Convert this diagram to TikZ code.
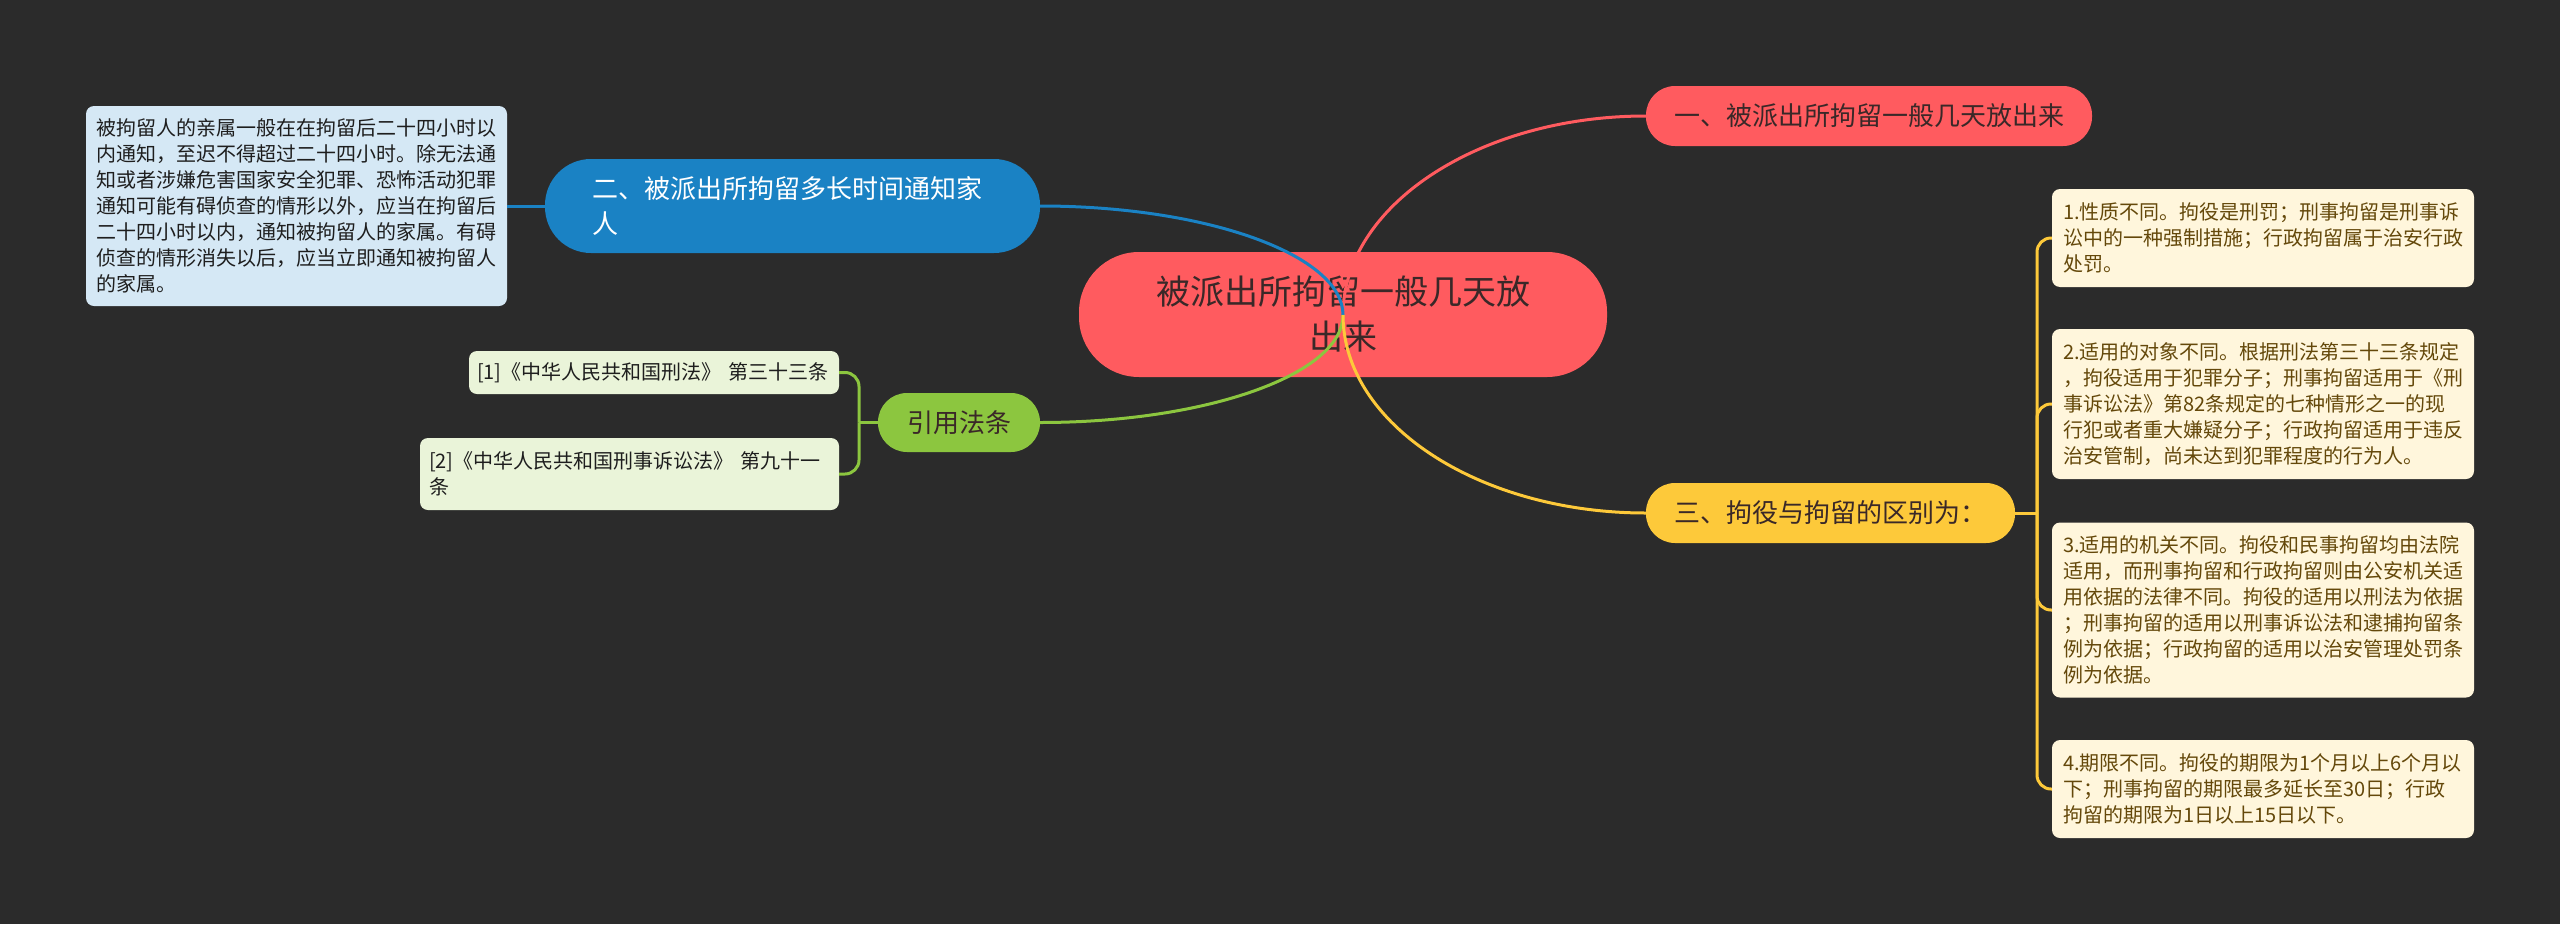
\documentclass[tikz,border=0pt]{standalone}
\usepackage{fontspec}
\setmainfont{Noto Sans CJK SC}
\usetikzlibrary{calc}
\definecolor{bg}{RGB}{43,43,43}
\definecolor{cred}{RGB}{255,91,95}
\definecolor{cblue}{RGB}{26,130,196}
\definecolor{cgreen}{RGB}{140,198,63}
\definecolor{cyellow}{RGB}{253,201,58}
\definecolor{darktext}{RGB}{58,40,40}
\definecolor{noteblue}{RGB}{213,232,245}
\definecolor{notegreen}{RGB}{234,244,217}
\definecolor{noteyellow}{RGB}{255,246,220}
\definecolor{brown}{RGB}{100,72,10}
\definecolor{ink}{RGB}{30,30,30}
\tikzset{
  pill/.style={inner sep=0pt, font=\fontsize{26}{35}\selectfont},
  notebox/.style={inner sep=0pt, rounded corners=8pt, align=left, font=\fontsize{20}{26}\selectfont},
  cn/.style={line width=3pt},
}
\begin{document}
\begin{tikzpicture}[x=1pt,y=-1pt]
\fill[bg] (0,0) rectangle (2560,924);
\useasboundingbox (0,0) rectangle (2560,924);

% central
\node[pill, fill=cred, text=darktext, minimum width=528pt, minimum height=125pt, rounded corners=60pt, align=center, font=\fontsize{34}{45}\selectfont] (root) at (1343,314.5) {被派出所拘留一般几天放\\出来};

% branch nodes
\node[pill, fill=cred, text=darktext, minimum width=446pt, minimum height=60pt, rounded corners=29pt] (one) at (1869,116) {一、被派出所拘留一般几天放出来};
\node[pill, fill=cblue, text=white, minimum width=495pt, minimum height=94pt, rounded corners=46pt, text width=401pt, align=left] (two) at (792.5,206) {二、被派出所拘留多长时间通知家\\人};
\node[pill, fill=cyellow, text=darktext, minimum width=369pt, minimum height=60pt, rounded corners=29pt] (three) at (1830.5,513) {三、拘役与拘留的区别为：};
\node[pill, fill=cgreen, text=darktext, minimum width=162pt, minimum height=59pt, rounded corners=29pt] (law) at (959,422.5) {引用法条};

% left note
\node[notebox, fill=noteblue, text=ink, minimum width=421pt, minimum height=200pt, text width=400pt] (note) at (296.5,206) {被拘留人的亲属一般在在拘留后二十四小时以\\内通知，至迟不得超过二十四小时。除无法通\\知或者涉嫌危害国家安全犯罪、恐怖活动犯罪\\通知可能有碍侦查的情形以外，应当在拘留后\\二十四小时以内，通知被拘留人的家属。有碍\\侦查的情形消失以后，应当立即通知被拘留人\\的家属。};

% law items
\node[notebox, fill=notegreen, text=ink, minimum width=370pt, minimum height=43pt, text width=354pt] (l1) at (654,372.5) {[1]《中华人民共和国刑法》~第三十三条};
\node[notebox, fill=notegreen, text=ink, minimum width=419pt, minimum height=72pt, text width=401pt] (l2) at (629.5,474) {[2]《中华人民共和国刑事诉讼法》~第九十一\\条};

% right notes
\node[notebox, fill=noteyellow, text=brown, minimum width=422pt, minimum height=98pt, text width=400pt] (r1) at (2263,238) {1.性质不同。拘役是刑罚；刑事拘留是刑事诉\\讼中的一种强制措施；行政拘留属于治安行政\\处罚。};
\node[notebox, fill=noteyellow, text=brown, minimum width=422pt, minimum height=150pt, text width=400pt] (r2) at (2263,404) {2.适用的对象不同。根据刑法第三十三条规定\\，拘役适用于犯罪分子；刑事拘留适用于《刑\\事诉讼法》第82条规定的七种情形之一的现\\行犯或者重大嫌疑分子；行政拘留适用于违反\\治安管制，尚未达到犯罪程度的行为人。};
\node[notebox, fill=noteyellow, text=brown, minimum width=422pt, minimum height=175pt, text width=400pt] (r3) at (2263,610) {3.适用的机关不同。拘役和民事拘留均由法院\\适用，而刑事拘留和行政拘留则由公安机关适\\用依据的法律不同。拘役的适用以刑法为依据\\；刑事拘留的适用以刑事诉讼法和逮捕拘留条\\例为依据；行政拘留的适用以治安管理处罚条\\例为依据。};
\node[notebox, fill=noteyellow, text=brown, minimum width=422pt, minimum height=98pt, text width=400pt] (r4) at (2263,789) {4.期限不同。拘役的期限为1个月以上6个月以\\下；刑事拘留的期限最多延长至30日；行政\\拘留的期限为1日以上15日以下。};

% connectors from the centre
\coordinate (c) at (1343,315);
\draw[cn, cred] (c) .. controls ($(c)!0.55!(c|-one.west)$) and ($(one.west)!0.55!(c|-one.west)$) .. (one.west);
\draw[cn, cblue] (c) .. controls ($(c)!0.55!(c|-two.east)$) and ($(two.east)!0.55!(c|-two.east)$) .. (two.east);
\draw[cn, cgreen] (c) .. controls ($(c)!0.55!(c|-law.east)$) and ($(law.east)!0.55!(c|-law.east)$) .. (law.east);
\draw[cn, cyellow] (c) .. controls ($(c)!0.55!(c|-three.west)$) and ($(three.west)!0.55!(c|-three.west)$) .. (three.west);

% blue to note
\draw[cn, cblue] (two.west) -- (note.east);

% green bracket
\coordinate (gb) at (859,422.5);
\draw[cn, cgreen] (law.west) -- (gb);
\draw[cn, cgreen, rounded corners=14pt] (gb) |- (l1.east);
\draw[cn, cgreen, rounded corners=14pt] (gb) |- (l2.east);

% yellow bracket
\coordinate (yb) at (2037,513);
\draw[cn, cyellow] (three.east) -- (yb);
\draw[cn, cyellow, rounded corners=14pt] (yb) |- (r1.west);
\draw[cn, cyellow, rounded corners=14pt] (yb) |- (r2.west);
\draw[cn, cyellow, rounded corners=14pt] (yb) |- (r3.west);
\draw[cn, cyellow, rounded corners=14pt] (yb) |- (r4.west);
\end{tikzpicture}
\end{document}
